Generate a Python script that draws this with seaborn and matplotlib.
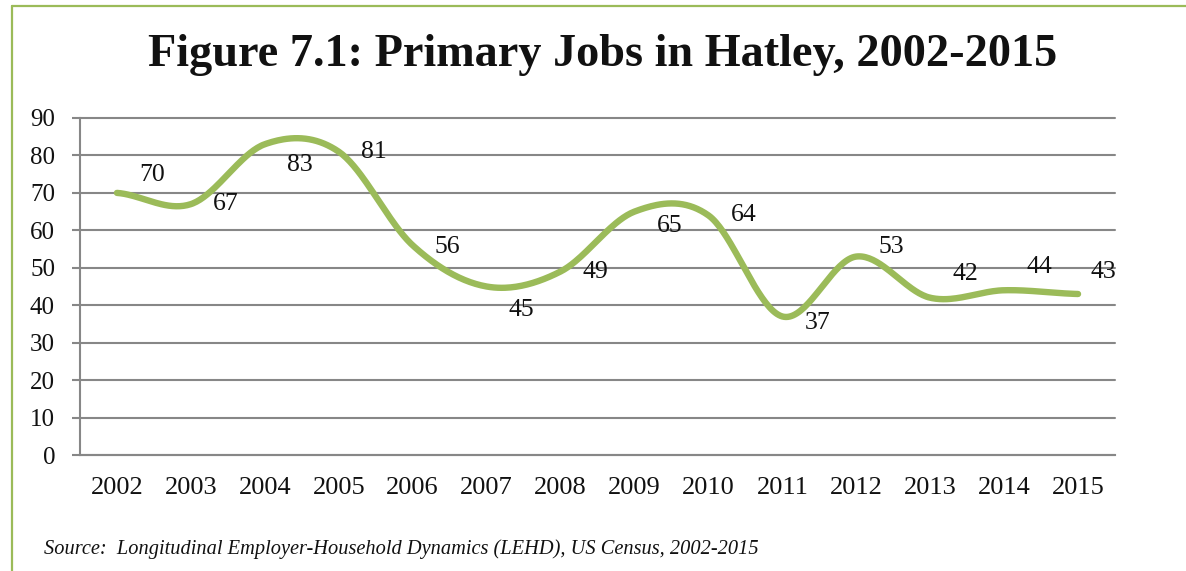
import numpy as np
import pandas as pd
import matplotlib
matplotlib.use("Agg")
import matplotlib.pyplot as plt
from matplotlib.lines import Line2D
from matplotlib.ticker import FixedLocator, NullFormatter
import seaborn as sns

# Primary jobs in Hatley by year
years = ["2002", "2003", "2004", "2005", "2006", "2007", "2008",
         "2009", "2010", "2011", "2012", "2013", "2014", "2015"]
jobs = [70, 67, 83, 81, 56, 45, 49, 65, 64, 37, 53, 42, 44, 43]
y_ticks = [0, 10, 20, 30, 40, 50, 60, 70, 80, 90]

# label offsets in pixels (right, up) relative to each point
label_dx = [35, 35, 35, 35, 35, 35, 35, 35, 35, 35, 35, 35, 35, 25]
label_dy = [18, 0, -21, 0, -2, -23, 0, -14, 0, -7, 10, 24, 23, 22]

GREEN = "#9BBB59"
GRID = "#878787"

sns.set_style("white")
plt.rcParams["font.family"] = ["Liberation Serif", "DejaVu Serif"]


def smooth_curve(values, steps=40):
    """Catmull-Rom smoothing through every point (Excel-style smoothed line)."""
    p = np.asarray(values, dtype=float)
    n = len(p)
    xs, ys = [], []
    for i in range(n - 1):
        p0 = p[i - 1] if i > 0 else p[i]
        p3 = p[i + 2] if i + 2 < n else p[i + 1]
        m1 = (p[i + 1] - p0) / 2.0
        m2 = (p3 - p[i]) / 2.0
        t = np.linspace(0, 1, steps, endpoint=(i == n - 2))
        h00 = 2 * t**3 - 3 * t**2 + 1
        h10 = t**3 - 2 * t**2 + t
        h01 = -2 * t**3 + 3 * t**2
        h11 = t**3 - t**2
        xs.append(i + t)
        ys.append(h00 * p[i] + h10 * m1 + h01 * p[i + 1] + h11 * m2)
    return np.concatenate(xs), np.concatenate(ys)


cx, cy = smooth_curve(jobs)
curve = pd.DataFrame({"x": cx, "jobs": cy})

fig = plt.figure(figsize=(11.86, 5.71), dpi=100)
ax = fig.add_axes([80 / 1186, 1 - 455 / 571, (1115 - 80) / 1186, (455 - 118) / 571])

sns.lineplot(data=curve, x="x", y="jobs", ax=ax, color=GREEN, linewidth=4.6,
             solid_capstyle="round", estimator=None, sort=False)

for i, v in enumerate(jobs):
    ax.annotate(str(v), xy=(i, v), xytext=(label_dx[i], label_dy[i]),
                textcoords="offset pixels", ha="center", va="center",
                fontsize=18.5, color="#111111")

ax.set_xlim(-0.5, len(years) - 0.5)
ax.set_ylim(0, 90)
ax.set_xlabel("")
ax.set_ylabel("")

ax.set_xticks(range(len(years)))
ax.set_xticklabels(years)
ax.xaxis.set_minor_locator(FixedLocator(np.arange(-0.5, len(years), 1.0)))
ax.xaxis.set_minor_formatter(NullFormatter())
ax.tick_params(axis="x", which="major", length=0, pad=16, labelsize=19, colors="#111111")
ax.tick_params(axis="x", which="minor", length=6, width=1.5, color=GRID, direction="out")
ax.tick_params(axis="x", which="major", bottom=True)

ax.set_yticks(y_ticks)
ax.tick_params(axis="y", which="major", length=6, width=1.5, color=GRID,
               direction="out", pad=12, labelsize=18, labelcolor="#111111", left=True)

ax.yaxis.grid(True, color=GRID, linewidth=1.5)
ax.xaxis.grid(False)
for gl in ax.yaxis.get_gridlines():
    gl.set_clip_on(False)
ax.set_axisbelow(True)

for side in ["top", "right"]:
    ax.spines[side].set_visible(False)
for side in ["left", "bottom"]:
    ax.spines[side].set_color(GRID)
    ax.spines[side].set_linewidth(1.5)

fig.text(0.508, 1 - 55 / 571, "Figure 7.1: Primary Jobs in Hatley, 2002-2015",
         ha="center", va="center", fontsize=33.3, fontweight="bold", color="#111111")
fig.text(44 / 1186, 1 - 549 / 571,
         "Source:  Longitudinal Employer-Household Dynamics (LEHD), US Census, 2002-2015",
         ha="left", va="center", fontsize=14.7, style="italic", color="#111111")

# frame accents on the left and top edges
fig.add_artist(Line2D([11.5 / 1186, 11.5 / 1186], [0, 1 - 6 / 571],
                      transform=fig.transFigure, color=GREEN, linewidth=1.6))
fig.add_artist(Line2D([11.5 / 1186, 1.0], [1 - 6 / 571, 1 - 6 / 571],
                      transform=fig.transFigure, color=GREEN, linewidth=1.6))

fig.savefig("out.png", dpi=100)
